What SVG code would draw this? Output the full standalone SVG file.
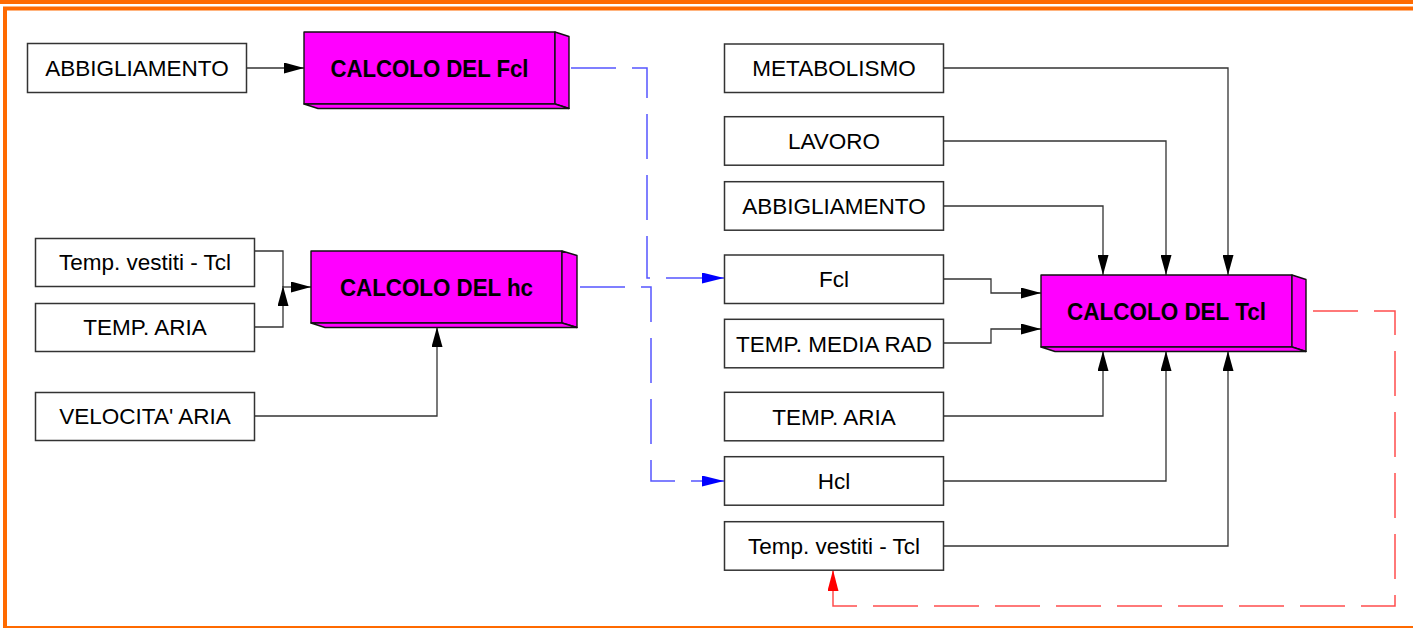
<svg xmlns="http://www.w3.org/2000/svg" width="1413" height="628" viewBox="0 0 1413 628">
<style>
.box{fill:#fff;stroke:#333;stroke-width:1.5}
.lbl{font-family:"Liberation Sans",Arial,sans-serif;font-size:22.5px;fill:#000;text-anchor:middle}
.calc{font-family:"Liberation Sans",Arial,sans-serif;font-size:23px;font-weight:bold;fill:#000;text-anchor:middle}
.face{fill:#ff00ff;stroke:#111;stroke-width:1.4;stroke-linejoin:round}
.con{fill:none;stroke:#333;stroke-width:1.3}
.blue{fill:none;stroke:#5555ff;stroke-width:1.5}
.red{fill:none;stroke:#ff4d4d;stroke-width:1.5}
.dash{stroke-dasharray:45 16;stroke-dashoffset:45}
.frame{fill:none;stroke:#ff6a00}
</style>
<defs>
<marker id="ab" markerUnits="userSpaceOnUse" markerWidth="20" markerHeight="11" refX="20" refY="5.5" orient="auto"><path d="M0,0 L20,5.5 L0,11 Z" fill="#000"/></marker>
<marker id="abl" markerUnits="userSpaceOnUse" markerWidth="22" markerHeight="11" refX="22" refY="5.5" orient="auto"><path d="M0,0 L22,5.5 L0,11 Z" fill="#0000ff"/></marker>
<marker id="ar" markerUnits="userSpaceOnUse" markerWidth="21" markerHeight="11" refX="21" refY="5.5" orient="auto"><path d="M0,0 L21,5.5 L0,11 Z" fill="#ff0000"/></marker>
</defs>
<rect x="0" y="0" width="1413" height="628" fill="#fff"/>
<g id="frame">
<line class="frame" x1="0" y1="2" x2="1413" y2="2" stroke-width="4"/>
<path class="frame" d="M5,628 V8.5 H1413" stroke-width="4"/>
<line class="frame" x1="5" y1="627" x2="1413" y2="627" stroke-width="2"/>
</g>
<g id="connectors">
<path class="con" d="M246,68 H304" marker-end="url(#ab)"/>
<path class="con" d="M254,251 H283 V287"/>
<path class="con" d="M254,327 H283 V286" marker-end="url(#ab)"/>
<path class="con" d="M283,287 H311" marker-end="url(#ab)"/>
<path class="con" d="M254,416 H437 V327" marker-end="url(#ab)"/>
<path class="con" d="M943,68 H1228 V275" marker-end="url(#ab)"/>
<path class="con" d="M943,141 H1166 V275" marker-end="url(#ab)"/>
<path class="con" d="M943,206 H1103 V275" marker-end="url(#ab)"/>
<path class="con" d="M943,279 H991 V293 H1041" marker-end="url(#ab)"/>
<path class="con" d="M943,343 H991 V329 H1041" marker-end="url(#ab)"/>
<path class="con" d="M943,416 H1103 V351" marker-end="url(#ab)"/>
<path class="con" d="M943,481 H1166 V351" marker-end="url(#ab)"/>
<path class="con" d="M943,546 H1228 V351" marker-end="url(#ab)"/>
<path class="blue dash" d="M666,278 H647 V68 H569"/>
<path class="blue" d="M666,278 H724" marker-end="url(#abl)"/>
<path class="blue dash" d="M691,481 H651 V287 H577"/>
<path class="blue" d="M691,481 H724" marker-end="url(#abl)"/>
<path class="red dash" d="M857,606 H1395 V311 H1306"/>
<path class="red" d="M857,606 H833 V570" marker-end="url(#ar)"/>
</g>
<g id="n-abbigliamento-1">
<rect class="box" x="27.5" y="43.5" width="219" height="49"/>
<text class="lbl" x="137" y="76">ABBIGLIAMENTO</text>
</g>
<g id="n-calc-fcl">
<rect class="face" x="304" y="32" width="251" height="72"/>
<polygon class="face" points="555,32 569,36.5 569,108.5 555,104"/>
<polygon class="face" points="304,104 555,104 569,108.5 318,108.5"/>
<text class="calc" x="429.5" y="76.5" textLength="198" lengthAdjust="spacingAndGlyphs">CALCOLO DEL Fcl</text>
</g>
<g id="n-temp-vestiti-1">
<rect class="box" x="35.5" y="238.5" width="219" height="48"/>
<text class="lbl" x="145" y="270">Temp. vestiti - Tcl</text>
</g>
<g id="n-temp-aria-1">
<rect class="box" x="35.5" y="303.5" width="219" height="48"/>
<text class="lbl" x="145" y="335">TEMP. ARIA</text>
</g>
<g id="n-velocita">
<rect class="box" x="35.5" y="392.5" width="219" height="48"/>
<text class="lbl" x="145" y="424">VELOCITA' ARIA</text>
</g>
<g id="n-calc-hc">
<rect class="face" x="311" y="251" width="251" height="72"/>
<polygon class="face" points="562,251 577,255.5 577,327.5 562,323"/>
<polygon class="face" points="311,323 562,323 577,327.5 325,327.5"/>
<text class="calc" x="436.5" y="295.5" textLength="193" lengthAdjust="spacingAndGlyphs">CALCOLO DEL hc</text>
</g>
<g id="n-metabolismo">
<rect class="box" x="724.5" y="44" width="219" height="48.5"/>
<text class="lbl" x="834" y="76">METABOLISMO</text>
</g>
<g id="n-lavoro">
<rect class="box" x="724.5" y="116.7" width="219" height="48.5"/>
<text class="lbl" x="834" y="149">LAVORO</text>
</g>
<g id="n-abbigliamento-2">
<rect class="box" x="724.5" y="181.7" width="219" height="48.5"/>
<text class="lbl" x="834" y="214">ABBIGLIAMENTO</text>
</g>
<g id="n-fcl">
<rect class="box" x="724.5" y="255" width="219" height="48.5"/>
<text class="lbl" x="834" y="287">Fcl</text>
</g>
<g id="n-temp-media-rad">
<rect class="box" x="724.5" y="319.3" width="219" height="48.5"/>
<text class="lbl" x="834" y="351.5">TEMP. MEDIA RAD</text>
</g>
<g id="n-temp-aria-2">
<rect class="box" x="724.5" y="392.3" width="219" height="48.5"/>
<text class="lbl" x="834" y="424.5">TEMP. ARIA</text>
</g>
<g id="n-hcl">
<rect class="box" x="724.5" y="456.7" width="219" height="48.5"/>
<text class="lbl" x="834" y="489">Hcl</text>
</g>
<g id="n-temp-vestiti-2">
<rect class="box" x="724.5" y="521.7" width="219" height="48.5"/>
<text class="lbl" x="834" y="554">Temp. vestiti - Tcl</text>
</g>
<g id="n-calc-tcl">
<rect class="face" x="1041" y="275" width="251" height="72"/>
<polygon class="face" points="1292,275 1306,279.5 1306,351.5 1292,347"/>
<polygon class="face" points="1041,347 1292,347 1306,351.5 1055,351.5"/>
<text class="calc" x="1166.5" y="319.5" textLength="199" lengthAdjust="spacingAndGlyphs">CALCOLO DEL Tcl</text>
</g>
</svg>
